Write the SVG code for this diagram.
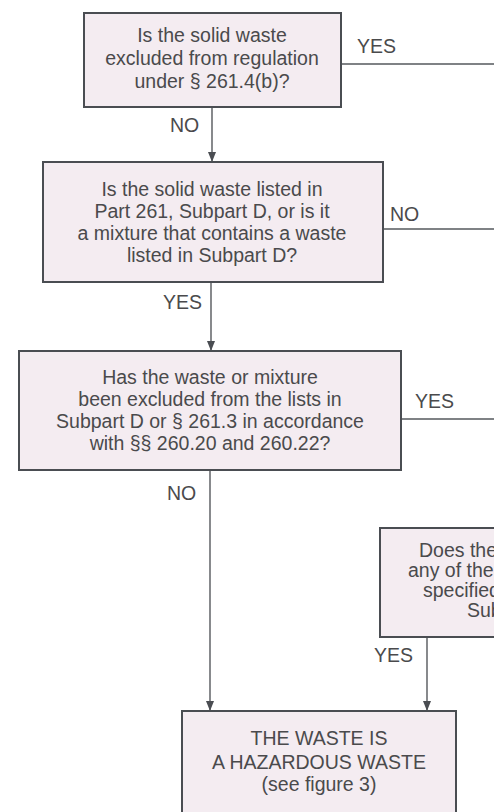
<svg xmlns="http://www.w3.org/2000/svg" width="494" height="812" viewBox="0 0 494 812">
  <defs>
    <marker id="arr" viewBox="0 0 10 10" refX="10" refY="5" markerWidth="10" markerHeight="10" markerUnits="userSpaceOnUse" orient="auto">
      <path d="M0,1 L10,5 L0,9 Z" fill="#4a4d52"/>
    </marker>
    <style>
      .box { fill: #f4ecf1; stroke: #4a4d52; stroke-width: 2; }
      .t { font-family: "Liberation Sans", Arial, sans-serif; font-size: 19.5px; fill: #4a4a4c; }
      .c { text-anchor: middle; }
      .ln { fill: none; stroke: #55585c; stroke-width: 1.4; }
    </style>
  </defs>
  <rect width="494" height="812" fill="#ffffff"/>

  <g id="connectors">
    <path class="ln" d="M212,107 V162" marker-end="url(#arr)"/>
    <path class="ln" d="M341,64 H494"/>
    <path class="ln" d="M383,229 H494"/>
    <path class="ln" d="M211,282 V351" marker-end="url(#arr)"/>
    <path class="ln" d="M401,419 H494"/>
    <path class="ln" d="M210,470 V711" marker-end="url(#arr)"/>
    <path class="ln" d="M427,637 V711" marker-end="url(#arr)"/>
    <text class="t" x="357" y="53">YES</text>
    <text class="t" x="170" y="132">NO</text>
    <text class="t" x="390" y="221">NO</text>
    <text class="t" x="163" y="309">YES</text>
    <text class="t" x="415" y="408">YES</text>
    <text class="t" x="167" y="500">NO</text>
    <text class="t" x="374" y="662">YES</text>
  </g>

  <g id="node1">
    <rect class="box" x="84" y="13" width="257" height="94"/>
    <text class="t c" x="212" y="42">Is the solid waste</text>
    <text class="t c" x="212" y="65">excluded from regulation</text>
    <text class="t c" x="212" y="88">under § 261.4(b)?</text>
  </g>

  <g id="node2">
    <rect class="box" x="43" y="162" width="340" height="120"/>
    <text class="t c" x="212" y="196">Is the solid waste listed in</text>
    <text class="t c" x="212" y="218">Part 261, Subpart D, or is it</text>
    <text class="t c" x="212" y="240">a mixture that contains a waste</text>
    <text class="t c" x="212" y="262">listed in Subpart D?</text>
  </g>

  <g id="node3">
    <rect class="box" x="19" y="351" width="382" height="119"/>
    <text class="t c" x="210" y="384">Has the waste or mixture</text>
    <text class="t c" x="210" y="406">been excluded from the lists in</text>
    <text class="t c" x="210" y="428">Subpart D or § 261.3 in accordance</text>
    <text class="t c" x="210" y="450">with §§ 260.20 and 260.22?</text>
  </g>

  <g id="node4">
    <rect class="box" x="380" y="528" width="130" height="109"/>
    <text class="t" x="419" y="557">Does the</text>
    <text class="t" x="408" y="577">any of the</text>
    <text class="t" x="423" y="597">specified</text>
    <text class="t" x="467" y="617">Sub</text>
  </g>

  <g id="node5">
    <rect class="box" x="182" y="711" width="274" height="112"/>
    <text class="t c" x="319" y="745">THE WASTE IS</text>
    <text class="t c" x="319" y="769">A HAZARDOUS WASTE</text>
    <text class="t c" x="319" y="791">(see figure 3)</text>
  </g>
</svg>
